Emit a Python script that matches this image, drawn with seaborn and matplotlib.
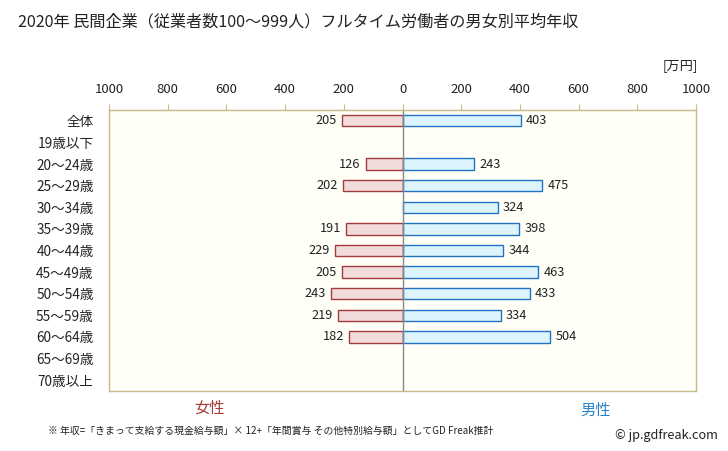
import numpy as np
import pandas as pd
import seaborn as sns
import matplotlib.pyplot as plt

# データ
categories = ["全体", "19歳以下", "20～24歳", "25～29歳", "30～34歳", "35～39歳", "40～44歳",
              "45～49歳", "50～54歳", "55～59歳", "60～64歳", "65～69歳", "70歳以上"]
female = [205, np.nan, 126, 202, np.nan, 191, 229, 205, 243, 219, 182, np.nan, np.nan]
male = [403, np.nan, 243, 475, 324, 398, 344, 463, 433, 334, 504, np.nan, np.nan]
ticks = [-1000, -800, -600, -400, -200, 0, 200, 400, 600, 800, 1000]

sns.set_style("white")
plt.rcParams['font.family'] = ['Noto Sans CJK JP', 'DejaVu Sans']

df_f = pd.DataFrame({"age": categories, "val": [-v for v in female]})
df_m = pd.DataFrame({"age": categories, "val": male})

fig = plt.figure(figsize=(7.28, 4.51), dpi=100)
ax = fig.add_axes([109/728, 1-391/451, 587/728, 281/451])
ax.set_facecolor("#fffff8")

sns.barplot(data=df_f, x="val", y="age", order=categories, orient="h", ax=ax,
            color="#f2dcdb", edgecolor="#a33b3a", linewidth=1.0, width=0.52, saturation=1)
sns.barplot(data=df_m, x="val", y="age", order=categories, orient="h", ax=ax,
            color="#def4fd", edgecolor="#1f72c4", linewidth=1.0, width=0.52, saturation=1)

ax.axvline(0, color="#888888", lw=1.0)

# 数値ラベル
for i, (f, m) in enumerate(zip(female, male)):
    if not np.isnan(f):
        ax.text(-f - 18, i, f"{f:.0f}", ha="right", va="center", fontsize=9.2, color="#222222")
    if not np.isnan(m):
        ax.text(m + 18, i, f"{m:.0f}", ha="left", va="center", fontsize=9.2, color="#222222")

ax.set_xlim(-1000, 1000)
ax.set_xticks(ticks)
ax.set_xticklabels([str(abs(t)) for t in ticks], fontsize=9.5, color="#222222")
ax.xaxis.tick_top()
ax.tick_params(axis="x", length=4, color="#c8b88a", pad=6, top=True, bottom=False)
ax.tick_params(axis="y", length=0, labelsize=9.8, pad=11, labelcolor="#222222")
ax.set_xlabel("")
ax.set_ylabel("")
for s in ax.spines.values():
    s.set_color("#c8b88a")
    s.set_linewidth(1.0)

fig.text(18/728, 1-22/451, "2020年 民間企業（従業者数100～999人）フルタイム労働者の男女別平均年収",
         fontsize=11.6, va="center", ha="left", color="#222222")
fig.text(698/728, 1-66/451, "[万円]", fontsize=9.5, ha="right", va="center", color="#222222")
fig.text(210/728, 1-408/451, "女性", fontsize=11, ha="center", va="center", color="#a33b3a")
fig.text(596/728, 1-410/451, "男性", fontsize=11, ha="center", va="center", color="#2a86cc")
fig.text(48/728, 1-431/451,
         "※ 年収=「きまって支給する現金給与額」× 12+「年間賞与 その他特別給与額」としてGD Freak推計",
         fontsize=7.1, ha="left", va="center", color="#222222")
fig.text(718/728, 1-436/451, "© jp.gdfreak.com", fontsize=9.2, ha="right", va="center", color="#222222")

fig.savefig("out.png", dpi=100)
